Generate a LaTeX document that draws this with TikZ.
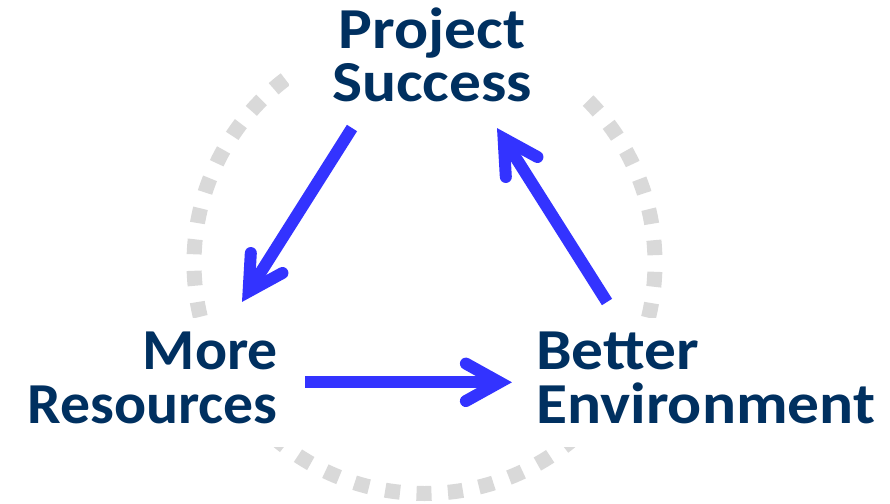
\documentclass[tikz,border=0pt]{standalone}
\usepackage{fontspec}
\setmainfont{Carlito}
\newfontfamily\wideface[FakeStretch=1.095]{Carlito}
\newfontfamily\leftface[FakeStretch=1.03]{Carlito}
\usetikzlibrary{decorations.markings}
\definecolor{navy}{RGB}{0,48,96}
\definecolor{arrblue}{RGB}{51,51,255}
\definecolor{ringgray}{RGB}{217,217,217}
\begin{document}
\begin{tikzpicture}[x=1pt,y=-1pt,
  lbl/.style={text=navy, font=\fontsize{58}{54}\selectfont\bfseries, inner sep=0pt},
  mask/.style={fill=white},
  ring/.style={draw=ringgray, line width=15pt, dash pattern=on 15pt off 16.485pt, dash phase=22.7pt},
  flow/.style={draw=arrblue, line width=12pt, postaction=decorate,
    decoration={markings, mark=at position 1 with {\draw[arrblue, line width=12pt, line cap=round, line join=miter] (-33.7,18.7) -- (0,0) -- (-33.7,-18.7);}}}
]
\useasboundingbox (0,0) rectangle (890,503);
\draw[ring] (424.5,263) circle[radius=230.5];
\fill[mask] (289,0) rectangle (582,98);
\fill[mask] (10,318) rectangle (300,447);
\fill[mask] (516,318) rectangle (885,447);

\node[lbl, font=\fontsize{58}{53}\selectfont\wideface\bfseries, align=center, anchor=base] (ps) at (432,101) {Project\\Success};
\node[lbl, font=\fontsize{58}{54}\selectfont\leftface\bfseries, align=right, anchor=base east] (mr) at (278,423) {More\\Resources};
\node[lbl, font=\fontsize{58}{54}\selectfont\wideface\bfseries, align=left, anchor=base west] (be) at (536,423) {Better\\Environment};

\coordinate (a1s) at (352,128);
\coordinate (a1e) at (248.6,291.5);
\coordinate (a2s) at (305,382.3);
\coordinate (a2e) at (499.6,382.3);
\coordinate (a3s) at (607,302);
\coordinate (a3e) at (503.6,138.5);
\draw[flow] (a1s) -- (a1e);
\draw[flow] (a2s) -- (a2e);
\draw[flow] (a3s) -- (a3e);
\end{tikzpicture}
\end{document}
